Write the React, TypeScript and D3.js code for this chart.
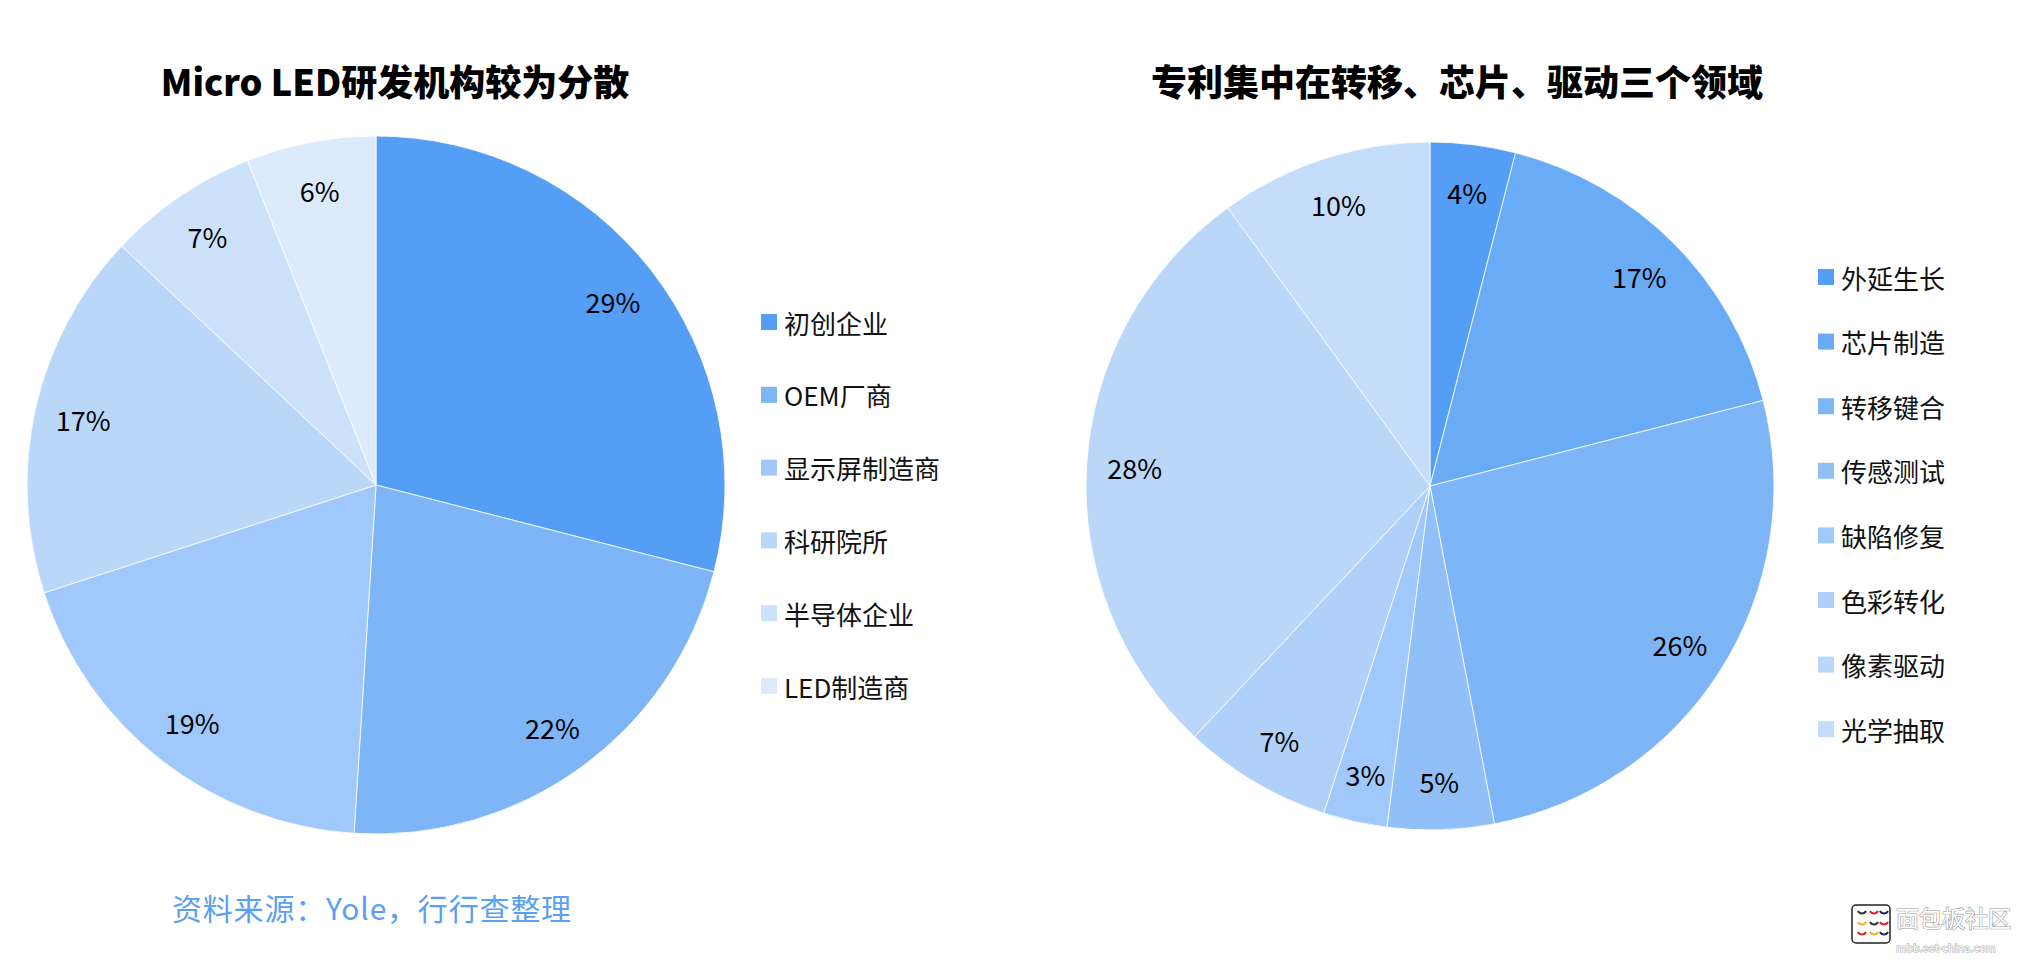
import React from "react";
import * as d3 from "d3";

const leftTitle = "Micro LED研发机构较为分散";
const leftCategories = ["初创企业", "OEM厂商", "显示屏制造商", "科研院所", "半导体企业", "LED制造商"];
const leftValues = [29, 22, 19, 17, 7, 6];
const leftColors = ["#559EF5", "#7DB5F7", "#A0C8FA", "#BAD7FA", "#CCE2FB", "#DCEAFC"];

const rightTitle = "专利集中在转移、芯片、驱动三个领域";
const rightCategories = ["外延生长", "芯片制造", "转移键合", "传感测试", "缺陷修复", "色彩转化", "像素驱动", "光学抽取"];
const rightValues = [4, 17, 26, 5, 3, 7, 28, 10];
const rightColors = ["#559EF5", "#6AABF6", "#7DB5F7", "#91C0F8", "#A0C8FA", "#AFD0F9", "#BAD7FA", "#C4DDFB"];

const sourceText = "资料来源：Yole，行行查整理";

const FONT = "'Noto Sans CJK SC', 'Noto Sans', sans-serif";

type PieProps = {
  cx: number;
  cy: number;
  r: number;
  labelR: number;
  values: number[];
  colors: string[];
};

function Pie({ cx, cy, r, labelR, values, colors }: PieProps) {
  const pie = d3.pie<number>().sort(null).value((d) => d);
  const arcs = pie(values);
  const arc = d3.arc<d3.PieArcDatum<number>>().innerRadius(0).outerRadius(r);
  const labelArc = d3.arc<d3.PieArcDatum<number>>().innerRadius(labelR).outerRadius(labelR);
  return (
    <g transform={`translate(${cx},${cy})`}>
      {arcs.map((a, i) => (
        <path key={i} d={arc(a) || ""} fill={colors[i]} stroke="#ffffff" strokeWidth={0.8} />
      ))}
      {arcs.map((a, i) => {
        const [x, y] = labelArc.centroid(a);
        return (
          <text
            key={"l" + i}
            x={x}
            y={y}
            textAnchor="middle"
            dominantBaseline="central"
            fontSize={27}
            fontFamily={FONT}
            fill="#000"
          >
            {`${values[i]}%`}
          </text>
        );
      })}
    </g>
  );
}

type LegendProps = {
  x: number;
  y0: number;
  step: number;
  categories: string[];
  colors: string[];
};

function Legend({ x, y0, step, categories, colors }: LegendProps) {
  return (
    <g>
      {categories.map((c, i) => {
        const y = y0 + i * step;
        return (
          <g key={i}>
            <rect x={x} y={y - 8} width={16} height={16} fill={colors[i]} />
            <text
              x={x + 23}
              y={y}
              dominantBaseline="central"
              fontSize={26}
              fontFamily={FONT}
              fill="#111"
            >
              {c}
            </text>
          </g>
        );
      })}
    </g>
  );
}

function Watermark() {
  const arcsDef = [
    { x: 1862, y: 914, c: "#333" },
    { x: 1874, y: 914, c: "#e02020" },
    { x: 1884, y: 914, c: "#222266" },
    { x: 1862, y: 925, c: "#f0b020" },
    { x: 1874, y: 925, c: "#333" },
    { x: 1884, y: 925, c: "#e02020" },
    { x: 1862, y: 935, c: "#e02020" },
    { x: 1874, y: 935, c: "#f0b020" },
    { x: 1884, y: 935, c: "#222266" },
  ];
  return (
    <g>
      <rect x={1852} y={905} width={38} height={38} rx={4} fill="#fff" stroke="#222" strokeWidth={1.5} />
      {arcsDef.map((a, i) => (
        <path
          key={i}
          d={`M${a.x - 4},${a.y - 3} A4.5,4.5 0 0 0 ${a.x + 4},${a.y - 3}`}
          fill="none"
          stroke={a.c}
          strokeWidth={2}
        />
      ))}
      <text
        x={1896}
        y={917}
        fontSize={23}
        fontFamily={FONT}
        fill="#fff"
        stroke="#9a9a9a"
        strokeWidth={1.2}
        paintOrder="stroke"
        dominantBaseline="central"
      >
        面包板社区
      </text>
      <text
        x={1896}
        y={947}
        fontSize={11}
        fontFamily={FONT}
        fill="#fff"
        stroke="#aaa"
        strokeWidth={1}
        paintOrder="stroke"
        dominantBaseline="central"
      >
        mbb.eet-china.com
      </text>
    </g>
  );
}

export default function App() {
  return (
    <svg
      width={2028}
      height={960}
      style={{ position: "absolute", left: 0, top: 0, background: "#fff" }}
    >
      <rect x={0} y={0} width={2028} height={960} fill="#fff" />
      <text
        x={395}
        y={80}
        textAnchor="middle"
        dominantBaseline="central"
        fontSize={36}
        fontWeight={900}
        fontFamily={FONT}
        fill="#000"
      >
        {leftTitle}
      </text>
      <text
        x={1457}
        y={80}
        textAnchor="middle"
        dominantBaseline="central"
        fontSize={36}
        fontWeight={900}
        fontFamily={FONT}
        fill="#000"
      >
        {rightTitle}
      </text>
      <Pie cx={376} cy={485} r={349} labelR={300} values={leftValues} colors={leftColors} />
      <Pie cx={1430} cy={486} r={344} labelR={296} values={rightValues} colors={rightColors} />
      <Legend x={761} y0={322} step={72.8} categories={leftCategories} colors={leftColors} />
      <Legend x={1818} y0={277} step={64.6} categories={rightCategories} colors={rightColors} />
      <text
        x={172}
        y={907}
        dominantBaseline="central"
        fontSize={30}
        letterSpacing={0.8}
        fontFamily={FONT}
        fill="#5AA0F2"
      >
        {sourceText}
      </text>
      <Watermark />
    </svg>
  );
}
